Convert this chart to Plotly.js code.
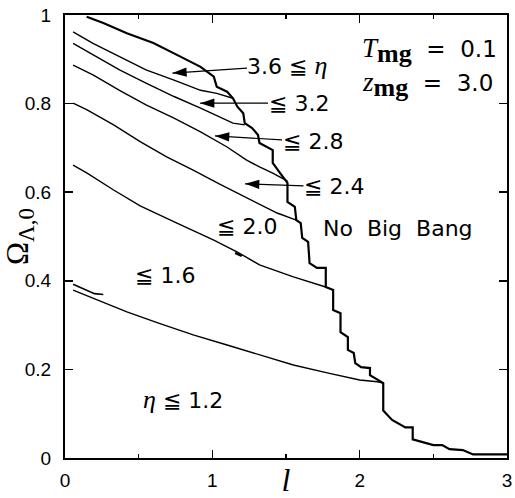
<!DOCTYPE html>
<html><head><meta charset="utf-8">
<script src="https://cdn.plot.ly/plotly-3.0.1.min.js"></script>
<style>html,body{margin:0;padding:0;background:#fff}</style>
</head><body><div id="chart" style="width:515px;height:498px"></div>
<script>
// "No Big Bang" boundary (thick)
const boundaryX = [0.147,0.26,0.42,0.60,0.76,0.92,1.01,1.03,1.10,1.14,1.17,1.21,1.22,1.27,1.31,1.32,1.41,1.41,1.46,1.51,1.51,1.56,1.57,1.60,1.61,1.65,1.66,1.71,1.77,1.77,1.82,1.82,1.87,1.87,1.92,1.92,1.96,1.97,2.01,2.07,2.07,2.16,2.16,2.22,2.31,2.36,2.36,2.41,2.50,2.56,2.61,2.70,2.77,3.0];
const boundaryY = [0.996,0.982,0.959,0.937,0.910,0.883,0.861,0.838,0.827,0.812,0.793,0.778,0.756,0.745,0.729,0.711,0.695,0.666,0.643,0.621,0.578,0.567,0.537,0.530,0.497,0.488,0.440,0.429,0.429,0.386,0.379,0.334,0.327,0.284,0.273,0.244,0.237,0.214,0.205,0.203,0.187,0.169,0.107,0.086,0.069,0.069,0.042,0.037,0.029,0.029,0.020,0.018,0.008,0.008];
// contour eta = 3.6
const c36X = [0.055,0.19,0.37,0.55,0.74,0.92,1.03,1.14];
const c36Y = [0.962,0.936,0.906,0.876,0.853,0.830,0.823,0.812];
// contour eta = 3.2
const c32X = [0.055,0.19,0.37,0.55,0.74,0.92,1.05,1.14,1.22];
const c32Y = [0.936,0.910,0.876,0.846,0.816,0.790,0.770,0.756,0.752];
// contour eta = 2.8
const c28X = [0.055,0.19,0.37,0.55,0.74,0.92,1.10,1.23,1.32,1.41,1.51];
const c28Y = [0.887,0.865,0.830,0.797,0.767,0.736,0.702,0.673,0.657,0.643,0.625];
// contour eta = 2.4
const c24X = [0.055,0.15,0.33,0.51,0.69,0.87,1.05,1.23,1.44,1.57];
const c24Y = [0.801,0.786,0.752,0.714,0.680,0.650,0.618,0.588,0.553,0.537];
// contour eta = 2.0
const c20X = [0.055,0.15,0.33,0.51,0.76,1.01,1.17,1.32,1.55,1.77];
const c20Y = [0.661,0.643,0.605,0.569,0.530,0.492,0.465,0.436,0.409,0.386];
// contour eta = 1.6
const c16X = [0.055,0.19,0.42,0.64,0.87,1.10,1.32,1.55,1.78,2.0,2.12,2.16];
const c16Y = [0.379,0.361,0.330,0.304,0.278,0.255,0.233,0.210,0.192,0.176,0.172,0.169];
// small stray strokes
const stubAX = [0.055,0.12,0.20,0.26];
const stubAY = [0.392,0.382,0.371,0.369];
const stubBX = [1.155,1.20];
const stubBY = [0.463,0.456];

// arrow labels: tip positions and text centres
const arrowLabels = ['3.6', '3.2', '2.8', '2.4'];
const arrowTipX = [0.729, 0.917, 1.018, 1.222];
const arrowTipY = [0.869, 0.801, 0.727, 0.619];
const arrowTextX = [1.51, 1.585, 1.68, 1.826];
const arrowTextY = [0.886, 0.801, 0.714, 0.612];

const xTicks = [0,1,2,3];
const yTicks = [0,0.2,0.4,0.6,0.8,1];

function line(x, y, w) {
  return {x: x, y: y, type: 'scatter', mode: 'lines', line: {color: '#000', width: w}, hoverinfo: 'skip', showlegend: false};
}
const pxX = 442 / 3, pxY = 443;
const headAngles = arrowTipX.map((tx, i) => {
  const dx = (tx - arrowTextX[i]) * pxX;
  const dyScreen = -(arrowTipY[i] - arrowTextY[i]) * pxY;
  return Math.atan2(dx, -dyScreen) * 180 / Math.PI;
});
const traces = [
  line(boundaryX, boundaryY, 2.2),
  line(c36X, c36Y, 1.4),
  line(c32X, c32Y, 1.4),
  line(c28X, c28Y, 1.4),
  line(c24X, c24Y, 1.4),
  line(c20X, c20Y, 1.4),
  line(c16X, c16Y, 1.4),
  line(stubAX, stubAY, 1.6),
  line(stubBX, stubBY, 2.4),
  {x: arrowTipX, y: arrowTipY, type: 'scatter', mode: 'markers', hoverinfo: 'skip', showlegend: false,
   marker: {symbol: 'arrow', size: 15, color: '#000', angle: headAngles, angleref: 'up', line: {width: 0}}}
];

const serif = "font-family:'Liberation Serif'";
const LE = '\u2266';
const NB = '\u00A0';
const eta = '<span style="' + serif + ';font-size:26px"><i>η</i></span>';
const labFont = {family: 'DejaVu Sans', size: 22, color: '#000'};
function arrow(txt, tipX, tipY, tX, tY) {
  return {x: tipX, y: tipY, ax: tX, ay: tY, axref: 'x', ayref: 'y', xref: 'x', yref: 'y',
    text: txt, showarrow: true, arrowhead: 0, arrowwidth: 1.2, arrowcolor: '#000',
    font: labFont, borderpad: 0};
}
function label(txt, x, y) {
  return {x: x, y: y, xref: 'x', yref: 'y', text: txt, showarrow: false, font: labFont};
}
const arrowTexts = [
  arrowLabels[0] + ' ' + LE + ' ' + eta,
  LE + ' ' + arrowLabels[1],
  LE + ' ' + arrowLabels[2],
  LE + ' ' + arrowLabels[3]
];
const annotations = arrowTexts.map((t, i) => arrow(t, arrowTipX[i], arrowTipY[i], arrowTextX[i], arrowTextY[i])).concat([
  label(LE + ' 2.0', 1.233, 0.522),
  label('No' + NB + NB + 'Big' + NB + NB + 'Bang', 2.257, 0.519),
  label(LE + ' 1.6', 0.679, 0.413),
  label(eta + ' ' + LE + ' 1.2', 0.80, 0.131),
  {x: 2.0, y: 0.92, xref: 'x', yref: 'y', xanchor: 'left', yanchor: 'middle', showarrow: false,
   font: {family: 'DejaVu Sans', size: 23, color: '#000'},
   text: '<span style="' + serif + ';font-size:27px"><i>T</i></span><sub><span style="' + serif + ';font-size:26px"><b>mg</b></span></sub>' + NB + NB + '=' + NB + NB + '0.1'},
  {x: 2.0, y: 0.842, xref: 'x', yref: 'y', xanchor: 'left', yanchor: 'middle', showarrow: false,
   font: {family: 'DejaVu Sans', size: 23, color: '#000'},
   text: '<span style="' + serif + ';font-size:27px"><i>z</i></span><sub><span style="' + serif + ';font-size:26px"><b>mg</b></span></sub>' + NB + NB + '=' + NB + NB + '3.0'}
]);

const layout = {
  width: 515, height: 498,
  margin: {l: 65, r: 8, t: 15, b: 40},
  paper_bgcolor: '#fff', plot_bgcolor: '#fff',
  showlegend: false,
  font: {family: 'Liberation Sans', color: '#000'},
  xaxis: {
    range: [0, 3], tickvals: xTicks, ticktext: xTicks.map(String),
    ticks: 'inside', ticklen: 8, tickwidth: 1.5, tickcolor: '#000',
    minor: {dtick: 0.5, tick0: 0, ticks: 'inside', ticklen: 4, tickwidth: 1.2, tickcolor: '#000'},
    showline: true, linewidth: 2, linecolor: '#000', mirror: 'ticks',
    showgrid: false, zeroline: false, ticklabelstandoff: 4,
    tickfont: {family: 'Liberation Sans', size: 19},
    title: {text: '<i>l</i>', font: {family: 'Liberation Serif', size: 32}, standoff: 0}
  },
  yaxis: {
    range: [0, 1], tickvals: yTicks, ticktext: yTicks.map(String),
    ticks: 'inside', ticklen: 8, tickwidth: 1.5, tickcolor: '#000',
    showline: true, linewidth: 2, linecolor: '#000', mirror: 'ticks',
    showgrid: false, zeroline: false, ticklabelstandoff: 8,
    tickfont: {family: 'Liberation Sans', size: 19},
    title: {text: 'Ω<sub><span style="font-size:23px">Λ,0</span></sub>', font: {family: 'Liberation Serif', size: 31}, standoff: 0}
  },
  annotations: annotations
};
Plotly.newPlot('chart', traces, layout, {displayModeBar: false, staticPlot: true});
</script>
</body></html>
